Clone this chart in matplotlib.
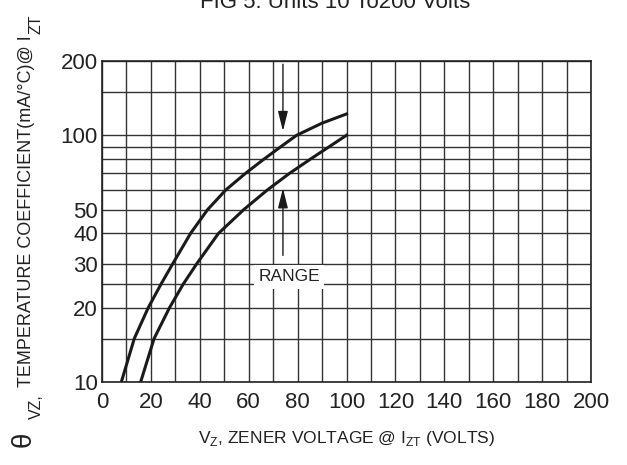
import matplotlib
matplotlib.use("Agg")
import matplotlib.pyplot as plt
from matplotlib.ticker import FixedLocator, NullFormatter

plt.rcParams['font.family'] = ['Liberation Sans', 'DejaVu Sans']
plt.rcParams['mathtext.fontset'] = 'custom'
plt.rcParams['mathtext.rm'] = 'Liberation Sans'

# curves (Vz in volts, temp coeff in mA/C)
upper_vz = [7.9, 13.2, 18.9, 24.2, 28.8, 36.2, 43.2, 50.6, 58.6, 66.2, 73.2, 79.6, 90.0, 100.0]
upper_tc = [10, 15, 20, 25, 30, 40, 50, 60, 70, 80, 90, 100, 112, 122]
lower_vz = [15.8, 21.3, 27.6, 33.3, 38.6, 47.6, 58.0, 67.6, 76.6, 85.2, 93.0, 100.0]
lower_tc = [10, 15, 20, 25, 30, 40, 50, 60, 70, 80, 90, 100]

x_ticks = [0, 20, 40, 60, 80, 100, 120, 140, 160, 180, 200]
x_minor = [10, 30, 50, 70, 90, 110, 130, 150, 170, 190]
y_ticks = [10, 20, 30, 40, 50, 100, 200]
y_minor = [15, 25, 60, 70, 80, 90, 150]

ink = '#222222'
fig = plt.figure(figsize=(6.27, 4.65), dpi=100)
ax = fig.add_axes([0.1627, 0.1785, 0.7799, 0.6903])

ax.set_yscale('log')
ax.set_xlim(0, 200)
ax.set_ylim(10, 200)
ax.set_xticks(x_ticks)
ax.set_xticklabels([str(v) for v in x_ticks])
ax.xaxis.set_minor_locator(FixedLocator(x_minor))
ax.set_yticks(y_ticks)
ax.set_yticklabels([str(v) for v in y_ticks])
ax.yaxis.set_minor_locator(FixedLocator(y_minor))
ax.yaxis.set_minor_formatter(NullFormatter())
ax.tick_params(which='both', length=0, labelsize=16, colors=ink)
ax.tick_params(axis='y', pad=3)
ax.tick_params(axis='x', pad=7)
ax.grid(which='both', color='#333333', linewidth=1.0)
ax.set_axisbelow(True)
for s in ax.spines.values():
    s.set_color(ink)
    s.set_linewidth(1.2)

ax.plot(upper_vz, upper_tc, color='#1a1a1a', lw=2.2)
ax.plot(lower_vz, lower_tc, color='#1a1a1a', lw=2.2)

# RANGE arrows
ax.annotate('', xy=(74, 104), xytext=(74, 194),
            arrowprops=dict(arrowstyle='-|>,head_length=0.6,head_width=0.15',
                            color='#1a1a1a', lw=1.0, mutation_scale=20, shrinkA=0, shrinkB=0))
ax.annotate('', xy=(74, 61), xytext=(74, 32.6),
            arrowprops=dict(arrowstyle='-|>,head_length=0.6,head_width=0.15',
                            color='#1a1a1a', lw=1.0, mutation_scale=20, shrinkA=0, shrinkB=0))
ax.text(76.5, 26.7, 'RANGE', ha='center', va='center', fontsize=12.5, color=ink,
        bbox=dict(boxstyle='square,pad=0.25', fc='white', ec='none'), zorder=5)

ax.set_xlabel(r'V$_{\mathregular{Z}}$, ZENER VOLTAGE @ I$_{\mathregular{ZT}}$ (VOLTS)',
              fontsize=12.5, color=ink, labelpad=12)

# y label built from pieces so the subscripts keep their size
fig.text(0.037, 0.038, '\u03b8', rotation=90, ha='center', va='bottom', fontsize=20, color=ink)
fig.text(0.058, 0.100, 'VZ,', rotation=90, ha='center', va='bottom', fontsize=11.5, color=ink)
main = fig.text(0.043, 0.168, 'TEMPERATURE COEFFICIENT(mA/\u00b0C)@ I', rotation=90,
                ha='center', va='bottom', fontsize=13, color=ink)
r = fig.canvas.get_renderer()
top = main.get_window_extent(r).y1 / fig.bbox.height
fig.text(0.058, top + 0.002, 'ZT', rotation=90, ha='center', va='bottom', fontsize=11.5, color=ink)

fig.text(0.534, 1 - 8.5 / 465, 'FIG 5. Units 10 To200 Volts', ha='center', va='baseline',
         fontsize=16, color=ink)

fig.savefig('out.png', dpi=100)
